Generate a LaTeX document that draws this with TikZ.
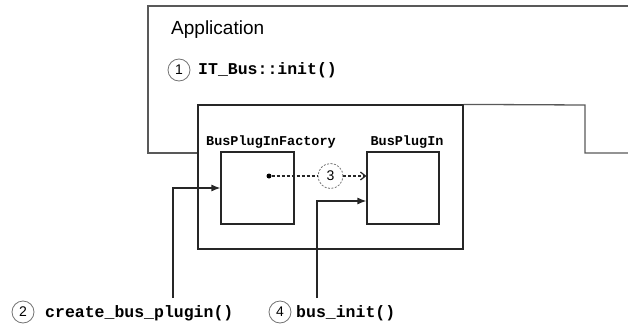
\documentclass[tikz,border=0pt]{standalone}
\usepackage{fontspec}
\setmainfont{Liberation Sans}
\newfontfamily\codefont{Liberation Mono}
\usetikzlibrary{arrows.meta,positioning}

\begin{document}
\begin{tikzpicture}[x=1pt,y=-1pt,
    outline/.style={draw=black!65, line width=1.3pt},
    plainbox/.style={draw=black!85, line width=1.2pt, rectangle, inner sep=0pt},
    link/.style={draw=black!85, line width=1.2pt, -{Latex[length=9pt,width=7pt]}},
    stepnum/.style={circle, draw=black!55, line width=0.8pt, minimum size=22pt,
        inner sep=0pt, font=\fontsize{14}{14}\selectfont},
    codetext/.style={anchor=west, inner sep=0pt,
        font=\codefont\bfseries\fontsize{16.5}{16.5}\selectfont},
    boxtitle/.style={inner sep=0pt,
        font=\codefont\bfseries\fontsize{13.5}{13.5}\selectfont}]
    \useasboundingbox (0,0) rectangle (628,324);

    %% frame and the two plugin boxes
    \node[plainbox, minimum width=265pt, minimum height=144pt] (frame) at (330.5,177) {};
    \node[plainbox, minimum width=73pt, minimum height=72pt] (factory) at (257.5,188) {};
    \node[plainbox, minimum width=72pt, minimum height=72pt] (plugin) at (403,188) {};
    \node[boxtitle] (factorytitle) at (271,142) {BusPlugInFactory};
    \node[boxtitle] (plugintitle) at (407,142) {BusPlugIn};

    %% application outline round the frame
    \draw[outline] (628,6) -| (148,153) -- (frame.west |- 0,153);
    \draw[outline] (frame.north east) -- (585,105) |- (628,153);
    \node[anchor=west, inner sep=0pt, font=\fontsize{19}{19}\selectfont]
        (app) at (171,30) {Application};

    %% numbered steps
    \foreach \n/\x/\y in {1/179/70, 2/23/312, 4/280/312}
        \node[stepnum] (s\n) at (\x,\y) {\n};
    \node[stepnum, dash pattern=on 2pt off 1.5pt, minimum size=25pt] (s3) at (330.5,176) {3};

    \node[codetext] (init) at (198,70) {IT\_Bus::init()};
    \node[codetext] (create) at (45,313) {create\_bus\_plugin()};
    \node[codetext] (businit) at (296,313) {bus\_init()};

    \coordinate (createup) at (173,298);
    \coordinate (businitup) at (317,298);
    \node[circle, fill=black, inner sep=0pt, minimum size=5pt] (dot) at (269,176) {};

    \draw[link] (createup) |- (factory.west);
    \draw[link] (businitup) |- ([yshift=-13pt]plugin.west);
    \path[draw=black!85, line width=1.2pt, dash pattern=on 3pt off 2pt]
        (dot) edge (s3)
        (s3) edge[-{Straight Barb[length=5pt,width=8pt]}] (s3 -| plugin.west)
    ;
\end{tikzpicture}
\end{document}
